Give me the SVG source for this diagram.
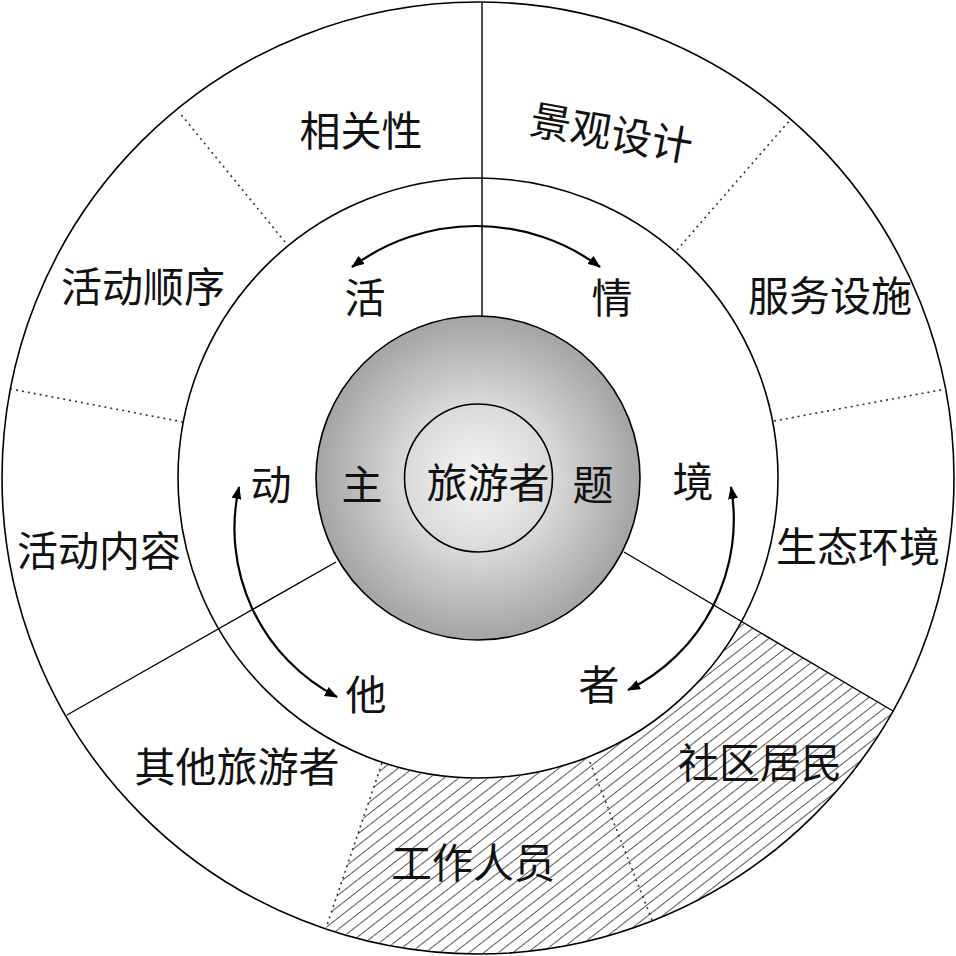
<svg xmlns="http://www.w3.org/2000/svg" width="956" height="956" viewBox="0 0 956 956">
  <defs>
    <radialGradient id="core" cx="478" cy="478" r="162" gradientUnits="userSpaceOnUse">
      <stop offset="0" stop-color="#f6f6f6"/>
      <stop offset="0.45" stop-color="#dadada"/>
      <stop offset="1" stop-color="#a4a4a4"/>
    </radialGradient>
    <pattern id="hatch" patternUnits="userSpaceOnUse" width="20" height="9" patternTransform="rotate(-38)">
      <line x1="0" y1="4.5" x2="20" y2="4.5" stroke="#5a5a5a" stroke-width="1"/>
    </pattern>
    <marker id="ah" viewBox="0 0 13 10" refX="12" refY="5" markerWidth="13" markerHeight="10" markerUnits="userSpaceOnUse" orient="auto-start-reverse">
      <path d="M0,0 L13,5 L0,10 z" fill="#000"/>
    </marker>
    <style>
      .ring { fill: none; stroke: #000; stroke-width: 1.6; }
      .sep { stroke: #000; stroke-width: 1.4; fill: none; }
      .dot { stroke: #333; stroke-width: 1.6; stroke-dasharray: 2 4; fill: none; }
      .arr { stroke: #000; stroke-width: 2.2; fill: none; marker-start: url(#ah); marker-end: url(#ah); }
      text { font-family: "Noto Sans CJK SC", "Noto Sans CJK TC", sans-serif; font-size: 41px; fill: #111; text-anchor: middle; dominant-baseline: central; }
    </style>
  </defs>

  <rect x="0" y="0" width="956" height="956" fill="#fff"/>

  <g id="rings">
    <circle cx="478" cy="478" r="476" fill="#fff"/>
    <path id="hatched" d="M 382,763 L 326,928 A 476 476 0 0 0 893,711 L 741.5,621.4 A 300 300 0 0 1 382,763 Z" fill="url(#hatch)"/>
    <circle class="ring" cx="478" cy="478" r="476"/>
    <circle class="ring" cx="478" cy="478" r="300"/>
  </g>

  <g id="dividers">
    <line class="sep" x1="482" y1="3" x2="482" y2="316"/>
    <line class="sep" x1="336" y1="562" x2="67" y2="715"/>
    <line class="sep" x1="624" y1="552" x2="893" y2="711"/>
    <line class="dot" x1="285" y1="242" x2="179" y2="112"/>
    <line class="dot" x1="183" y1="422" x2="11" y2="389"/>
    <line class="dot" x1="677" y1="250" x2="790" y2="120"/>
    <line class="dot" x1="774" y1="421" x2="946" y2="389"/>
    <line class="dot" x1="382" y1="763" x2="326" y2="928"/>
    <line class="dot" x1="590" y1="762" x2="652" y2="920"/>
  </g>

  <g id="core-node">
    <circle cx="478" cy="478" r="162" fill="url(#core)" stroke="#000" stroke-width="1.6"/>
    <circle cx="478.5" cy="478" r="74" fill="none" stroke="#000" stroke-width="1.6"/>
    <text x="362" y="482">主</text>
    <text x="488" y="480">旅游者</text>
    <text x="593" y="482">题</text>
  </g>

  <g id="middle-labels">
    <text x="365" y="295">活</text>
    <text x="612" y="295">情</text>
    <text x="271" y="482">动</text>
    <text x="693" y="479">境</text>
    <text x="366" y="692">他</text>
    <text x="599" y="682">者</text>
  </g>

  <g id="n-xiangguanxing"><text x="361" y="128">相关性</text></g>
  <g id="n-jingguan"><text x="612" y="130" transform="rotate(10 612 130)">景观设计</text></g>
  <g id="n-huodongshunxu"><text x="143" y="284">活动顺序</text></g>
  <g id="n-fuwusheshi"><text x="830" y="293">服务设施</text></g>
  <g id="n-huodongneirong"><text x="99" y="548">活动内容</text></g>
  <g id="n-shengtai"><text x="858" y="544">生态环境</text></g>
  <g id="n-qita"><text x="237" y="764">其他旅游者</text></g>
  <g id="n-shequ"><text x="760" y="760">社区居民</text></g>
  <g id="n-gongzuo"><text x="473" y="860">工作人员</text></g>

  <g id="connectors">
    <path class="arr" d="M 352,267 A 208 208 0 0 1 600,267"/>
    <path class="arr" d="M 239,487 A 190 190 0 0 0 337,697"/>
    <path class="arr" d="M 731,487 A 190 190 0 0 1 628,690"/>
  </g>
</svg>
